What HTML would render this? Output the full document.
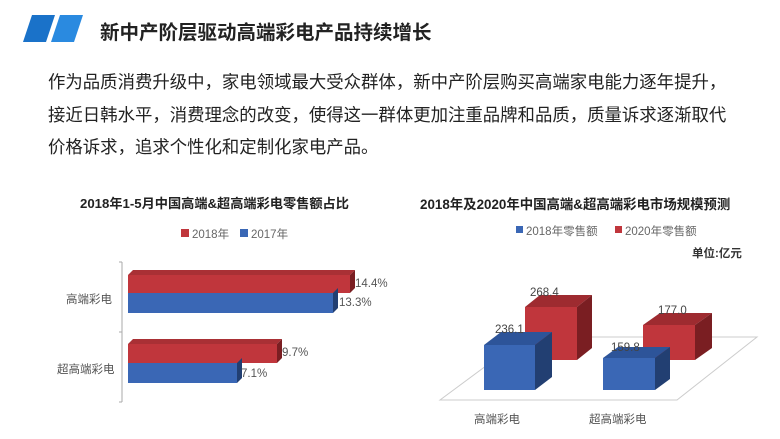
<!DOCTYPE html>
<html><head><meta charset="utf-8"><style>
body{margin:0;width:780px;height:439px;background:#fff;overflow:hidden;position:relative;font-family:"Liberation Sans","Noto Sans CJK SC",sans-serif}
.a{position:absolute;white-space:nowrap}
</style></head><body>
<svg class="a" style="left:0;top:0" width="780" height="439">
<polygon points="32,15 55,15 46,42 23,42" fill="#1a72c9"/>
<polygon points="60,15 83,15 74,42 51,42" fill="#2a8ae0"/>
<line x1="122" y1="262" x2="122" y2="402" stroke="#aaa"/>
<line x1="119" y1="262" x2="122" y2="262" stroke="#aaa"/>
<line x1="119" y1="332" x2="122" y2="332" stroke="#aaa"/>
<line x1="119" y1="402" x2="122" y2="402" stroke="#aaa"/>
<polygon points="128,275 133,270 355,270 350,275" fill="#a93035"/>
<polygon points="350,275 355,270 355,288 350,293" fill="#7a1e22"/>
<rect x="128" y="275" width="222" height="18" fill="#c0363c"/>
<polygon points="333,293 338,288 338,308 333,313" fill="#223f72"/>
<rect x="128" y="293" width="205" height="20" fill="#3a67b5"/>
<polygon points="128,344 133,339 282,339 277,344" fill="#a93035"/>
<polygon points="277,344 282,339 282,358 277,363" fill="#7a1e22"/>
<rect x="128" y="344" width="149" height="19" fill="#c0363c"/>
<polygon points="237,363 242,358 242,378 237,383" fill="#223f72"/>
<rect x="128" y="363" width="109" height="20" fill="#3a67b5"/>
<rect x="181" y="229" width="8" height="8" fill="#c0363c"/>
<rect x="240" y="229" width="8" height="8" fill="#3a67b5"/>
<polygon points="440,400 677,400 757,337 525,337" fill="none" stroke="#ccc"/>
<rect x="516" y="226" width="7" height="7" fill="#3a67b5"/>
<rect x="615" y="226" width="7" height="7" fill="#c0363c"/>
<polygon points="525,307 540,295 592,295 577,307" fill="#9e2b30"/>
<polygon points="577,307 592,295 592,348 577,360" fill="#7a1e22"/>
<rect x="525" y="307" width="52" height="53" fill="#c0363c"/>
<polygon points="643,325 660,313 712,313 695,325" fill="#9e2b30"/>
<polygon points="695,325 712,313 712,348 695,360" fill="#7a1e22"/>
<rect x="643" y="325" width="52" height="35" fill="#c0363c"/>
<polygon points="484,345 501,332 552,332 535,345" fill="#2d5499"/>
<polygon points="535,345 552,332 552,377 535,390" fill="#223f72"/>
<rect x="484" y="345" width="51" height="45" fill="#3a67b5"/>
<polygon points="603,358 618,347 670,347 655,358" fill="#2d5499"/>
<polygon points="655,358 670,347 670,379 655,390" fill="#223f72"/>
<rect x="603" y="358" width="52" height="32" fill="#3a67b5"/>
</svg>
<div class="a" style="left:100px;top:16px;font-size:19.5px;font-weight:bold;color:#222">新中产阶层驱动高端彩电产品持续增长</div>
<div class="a" style="left:48px;top:66px;font-size:17.4px;line-height:32.5px;color:#222">作为品质消费升级中，家电领域最大受众群体，新中产阶层购买高端家电能力逐年提升，<br>接近日韩水平，消费理念的改变，使得这一群体更加注重品牌和品质，质量诉求逐渐取代<br>价格诉求，追求个性化和定制化家电产品。</div>
<div class="a" style="left:80px;top:193px;font-size:13.2px;font-weight:bold;color:#222">2018年1-5月中国高端&amp;超高端彩电零售额占比</div>
<div class="a" style="left:192px;top:226px;font-size:11.5px;color:#666">2018年</div>
<div class="a" style="left:251px;top:226px;font-size:11.5px;color:#666">2017年</div>
<div class="a" style="left:66px;top:291px;font-size:11.5px;color:#555">高端彩电</div>
<div class="a" style="left:57px;top:361px;font-size:11.5px;color:#555">超高端彩电</div>
<div class="a" style="left:355px;top:278px;font-size:11.5px;color:#555">14.4%</div>
<div class="a" style="left:339px;top:297px;font-size:11.5px;color:#555">13.3%</div>
<div class="a" style="left:282px;top:347px;font-size:11.5px;color:#555">9.7%</div>
<div class="a" style="left:241px;top:368px;font-size:11.5px;color:#555">7.1%</div>
<div class="a" style="left:420px;top:193px;font-size:13.4px;font-weight:bold;color:#222">2018年及2020年中国高端&amp;超高端彩电市场规模预测</div>
<div class="a" style="left:526px;top:223px;font-size:11.5px;color:#666">2018年零售额</div>
<div class="a" style="left:625px;top:223px;font-size:11.5px;color:#666">2020年零售额</div>
<div class="a" style="left:692px;top:245px;font-size:11.5px;font-weight:bold;color:#333">单位:亿元</div>
<div class="a" style="left:495px;top:324px;font-size:11.5px;color:#444">236.1</div>
<div class="a" style="left:530px;top:287px;font-size:11.5px;color:#444">268.4</div>
<div class="a" style="left:611px;top:342px;font-size:11.5px;color:#444">159.8</div>
<div class="a" style="left:658px;top:305px;font-size:11.5px;color:#444">177.0</div>
<div class="a" style="left:474px;top:411px;font-size:11.5px;color:#555">高端彩电</div>
<div class="a" style="left:589px;top:411px;font-size:11.5px;color:#555">超高端彩电</div>
</body></html>
